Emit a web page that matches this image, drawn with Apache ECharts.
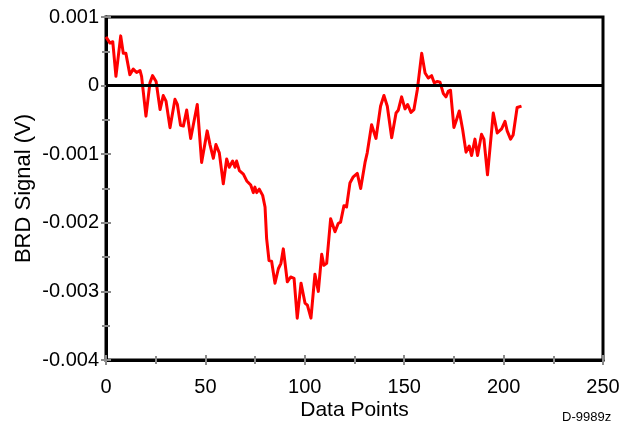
<!DOCTYPE html>
<html>
<head>
<meta charset="utf-8">
<script src="https://cdn.jsdelivr.net/npm/echarts@6/dist/echarts.min.js"></script>
<style>
  html, body { margin: 0; padding: 0; background: #fff; }
  #chart { width: 636px; height: 426px; }
</style>
</head>
<body>
<div id="chart"></div>
<script>
// BRD signal trace: sample index vs. signal in volts
const dataPoints = [
  0, 2, 3.4, 5, 7.4, 8.7, 10, 12, 13.7, 15.4, 17.1, 17.9, 20.1, 22.1, 23.4, 25.2,
  27.2, 28.8, 30.2, 32.2, 34.7, 35.9, 37.5, 38.9, 40.6, 42.6, 43.6, 45.9, 48.1, 50.9,
  52.3, 54, 55.3, 57, 59, 60.7, 62, 63.7, 64.9, 65.7, 67.1, 69.1, 70.8, 72.8, 74.1,
  74.9, 75.8, 77.1, 78.8, 80, 80.8, 82, 83.3, 85, 86.7, 88, 89.2, 91.2, 92.9, 94.6, 96.2,
  98.1, 100.1, 101.3, 103.1, 105.1, 106.8, 108.5, 109.6, 111, 113, 115.2, 116.8, 118,
  119.7, 121, 122.7, 124.4, 126.4, 128.1, 130.3, 131.4, 133.6, 135.8, 138.1, 139.8,
  141.5, 143.7, 145.9, 147, 148.7, 150.4, 151.7, 153.4, 154.9, 156.6, 158.8, 160.5,
  162.1, 163.8, 165.1, 166.7, 168, 169.7, 171, 172.2, 173.3, 175, 176.4, 177.7, 179.4,
  181.1, 182.7, 183.9, 185.6, 186.9, 188.9, 190.1, 191.9, 194.8, 196.8, 199, 200.7,
  201.8, 203.5, 204.8, 206.8, 207.8, 209
];

const brdSignal = [
  0.00071, 0.00062, 0.00064, 0.000135, 0.000725, 0.00047, 0.00047, 0.00016, 0.00024,
  0.00019, 0.00022, 0.000135, -0.000445, 0.00004, 0.000145, 0.00006, -0.00035,
  -0.000145, -0.000227, -0.000613, -0.0002, -0.000275, -0.00058, -0.00059, -0.000357,
  -0.00077, -0.00076, -0.000275, -0.00112, -0.00066,
  -0.00086, -0.00106, -0.00086, -0.00098, -0.00143, -0.00107, -0.00119, -0.0011,
  -0.00119, -0.0011, -0.00124, -0.00129, -0.00139, -0.00145, -0.00156, -0.00148,
  -0.00156, -0.00151, -0.0016, -0.00177, -0.00223,
  -0.00255, -0.00256, -0.00288, -0.00267, -0.00259, -0.00238, -0.00286, -0.00279,
  -0.00281, -0.00339, -0.00288, -0.00317, -0.0032, -0.00339, -0.00275, -0.003,
  -0.00246, -0.00262, -0.00259, -0.00194, -0.00213, -0.00201, -0.00199, -0.00175,
  -0.00177, -0.00142, -0.00133, -0.00128, -0.0015, -0.00112, -0.00098, -0.00057,
  -0.00077, -0.0003, -0.000145, -0.0003, -0.00076, -0.0004, -0.00036, -0.000164,
  -0.00034, -0.000275, -0.00039, -0.00035, -0.00006, 0.00047, 0.000184, 0.00011,
  0.000145, 0.00004, 0.00006, 0.00005, -0.000116, -0.000164, -0.00008, -0.000068,
  -0.00061, -0.00049, -0.00037, -0.00064, -0.00097, -0.00088, -0.00102, -0.00078,
  -0.00102, -0.00071, -0.00078, -0.0013, -0.0004, -0.00069, -0.00063, -0.00052,
  -0.00066, -0.00078, -0.00072, -0.00032, -0.00031, -0.0003
];

const xTicks = { min: 0, max: 250, step: 50 };
const yTicks = { min: -0.004, max: 0.001, step: 0.001 };

const FONT = 'Liberation Sans, Arial, sans-serif';
const TICK_GREY = '#8a8a8a';

const fmtY = v => (Math.abs(v) < 1e-9 ? '0' : v.toFixed(3));

const chart = echarts.init(document.getElementById('chart'), null, { renderer: 'canvas' });

// Each axis is declared twice: one carries line, labels and outward ticks,
// its twin carries only inward ticks so the marks cross the axis line.
function xAxisDef(inside) {
  return {
    type: 'value', position: 'bottom',
    min: xTicks.min, max: xTicks.max, interval: xTicks.step,
    name: inside ? '' : 'Data Points',
    nameLocation: 'middle', nameGap: 40, nameMoveOverlap: false,
    nameTextStyle: { fontFamily: FONT, fontSize: 21, color: '#000' },
    axisLine: { show: !inside, onZero: false, lineStyle: { color: '#000', width: 3 } },
    axisTick: { show: true, inside: inside, length: 5, lineStyle: { color: TICK_GREY, width: 2 } },
    minorTick: { show: true, splitNumber: 2, length: 4, lineStyle: { color: TICK_GREY, width: 2 } },
    axisLabel: { show: !inside, margin: 17, fontFamily: FONT, fontSize: 20, color: '#000' },
    splitLine: { show: false }
  };
}
function yAxisDef(inside) {
  return {
    type: 'value', position: 'left',
    min: yTicks.min, max: yTicks.max, interval: yTicks.step,
    name: inside ? '' : 'BRD Signal (V)',
    nameLocation: 'middle', nameGap: 71, nameRotate: 90, nameMoveOverlap: false,
    nameTextStyle: { fontFamily: FONT, fontSize: 22, color: '#000' },
    axisLine: { show: !inside, onZero: false, lineStyle: { color: '#000', width: 3 } },
    axisTick: { show: true, inside: inside, length: 5, lineStyle: { color: TICK_GREY, width: 2 } },
    minorTick: { show: true, splitNumber: 2, length: 4, lineStyle: { color: TICK_GREY, width: 2 } },
    axisLabel: { show: !inside, margin: 7, fontFamily: FONT, fontSize: 20, color: '#000', formatter: fmtY },
    splitLine: { show: false }
  };
}

chart.setOption({
  animation: false,
  backgroundColor: '#fff',
  grid: {
    left: 106, right: 33, top: 17, bottom: 64,
    show: true, borderColor: '#000', borderWidth: 3, backgroundColor: 'transparent'
  },
  xAxis: [xAxisDef(false), xAxisDef(true)],
  yAxis: [yAxisDef(false), yAxisDef(true)],
  series: [
    {
      // zero reference line
      type: 'line', data: [], z: 1, silent: true,
      markLine: {
        silent: true, symbol: ['none', 'none'], label: { show: false },
        lineStyle: { color: '#000', width: 3, type: 'solid' },
        data: [{ yAxis: 0 }]
      }
    },
    {
      name: 'BRD Signal',
      type: 'line', z: 3,
      data: dataPoints.map((x, i) => [x, brdSignal[i]]),
      showSymbol: false, symbol: 'none',
      lineStyle: { color: '#ff0000', width: 3, join: 'round' }
    }
  ],
  graphic: [
    {
      type: 'text', left: 562, top: 411,
      style: { text: 'D-9989z', fontFamily: FONT, fontSize: 13, fill: '#000' }
    }
  ]
});
</script>
</body>
</html>
